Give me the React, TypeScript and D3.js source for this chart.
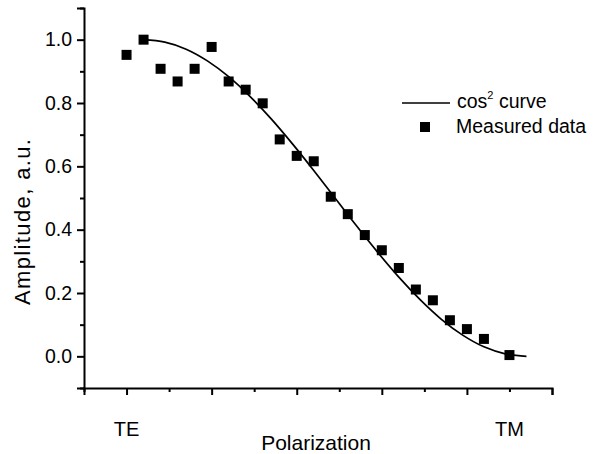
import { useEffect, useRef } from "react";
import * as d3 from "d3";

// Measured data: polarization angle (deg, TE = 0, TM = 90) and amplitude
const measuredAngles = [0, 4, 8, 12, 16, 20, 24, 28, 32, 36, 40, 44, 48, 52, 56, 60, 64, 68, 72, 76, 80, 84, 90];
const measuredValues = [
  0.952, 1.0, 0.908, 0.868, 0.908, 0.977, 0.868, 0.842, 0.799, 0.685, 0.633, 0.616,
  0.504, 0.449, 0.383, 0.335, 0.279, 0.211, 0.177, 0.114, 0.086, 0.055, 0.004,
];

// cos^2 curve
const curveAngles = [4, 9, 14, 19, 24, 29, 34, 39, 44, 49, 54, 59, 64, 69, 74, 79, 84, 89, 94];
const curveValues = [
  1.0, 0.992, 0.97, 0.933, 0.883, 0.821, 0.75, 0.671, 0.587, 0.5, 0.413, 0.329, 0.25,
  0.179, 0.117, 0.067, 0.03, 0.008, 0.0,
];

const yMajorTicks = [0, 0.2, 0.4, 0.6, 0.8, 1.0];
const yMinorTicks = [-0.1, 0.1, 0.3, 0.5, 0.7, 0.9, 1.1];
const xMajorTicks = [0, 20, 40, 60, 80, 100];
const xMinorTicks = [-10, 10, 30, 50, 70, 90];
const xLabels = [
  { angle: 0, text: "TE" },
  { angle: 90, text: "TM" },
];

const W = 593;
const H = 454;
const FONT = "Arial, 'Liberation Sans', Helvetica, sans-serif";

export default function App() {
  const svgRef = useRef<SVGSVGElement>(null);

  useEffect(() => {
    if (!svgRef.current) return;
    const svg = d3.select(svgRef.current);
    svg.selectAll("*").remove();

    const x = d3.scaleLinear().domain([-10, 100]).range([84, 552]);
    const y = d3.scaleLinear().domain([-0.1, 1.1]).range([388, 8]);

    // y axis
    const yAxisMajor = svg
      .append("g")
      .attr("transform", `translate(${x(-10)},0)`)
      .call(d3.axisLeft(y).tickValues(yMajorTicks).tickSize(7).tickPadding(5).tickFormat(d3.format(".1f")));
    yAxisMajor.select(".domain").attr("stroke-width", 2).attr("stroke", "#000");
    yAxisMajor.selectAll(".tick line").attr("stroke-width", 2);
    yAxisMajor
      .selectAll(".tick text")
      .attr("font-family", FONT)
      .attr("font-size", 19.5)
      .attr("fill", "#000");

    svg
      .append("g")
      .attr("transform", `translate(${x(-10)},0)`)
      .call(d3.axisLeft(y).tickValues(yMinorTicks).tickSize(4).tickFormat(() => ""))
      .call((g) => g.select(".domain").remove())
      .call((g) => g.selectAll(".tick line").attr("stroke-width", 2));

    // x axis
    const xAxisMajor = svg
      .append("g")
      .attr("transform", `translate(0,${y(-0.1)})`)
      .call(d3.axisBottom(x).tickValues(xMajorTicks).tickSize(7).tickFormat(() => ""));
    xAxisMajor.select(".domain").attr("stroke-width", 2).attr("stroke", "#000");
    xAxisMajor.selectAll(".tick line").attr("stroke-width", 2);

    svg
      .append("g")
      .attr("transform", `translate(0,${y(-0.1)})`)
      .call(d3.axisBottom(x).tickValues(xMinorTicks).tickSize(4).tickFormat(() => ""))
      .call((g) => g.select(".domain").remove())
      .call((g) => g.selectAll(".tick line").attr("stroke-width", 2));

    // TE / TM labels
    svg
      .selectAll(".xlab")
      .data(xLabels)
      .enter()
      .append("text")
      .attr("x", (d) => x(d.angle))
      .attr("y", 436)
      .attr("text-anchor", "middle")
      .attr("font-family", FONT)
      .attr("font-size", 20)
      .text((d) => d.text);

    // axis titles
    svg
      .append("text")
      .attr("x", 316)
      .attr("y", 450)
      .attr("text-anchor", "middle")
      .attr("font-family", FONT)
      .attr("font-size", 21)
      .text("Polarization");

    svg
      .append("text")
      .attr("transform", "translate(30,222) rotate(-90)")
      .attr("text-anchor", "middle")
      .attr("font-family", FONT)
      .attr("font-size", 22)
      .attr("textLength", 166)
      .attr("lengthAdjust", "spacing")
      .text("Amplitude, a.u.");

    // cos^2 curve
    const curvePts = curveAngles.map((a, i) => [a, curveValues[i]] as [number, number]);
    const line = d3
      .line<[number, number]>()
      .x((d) => x(d[0]))
      .y((d) => y(d[1]))
      .curve(d3.curveMonotoneX);
    svg
      .append("path")
      .datum(curvePts)
      .attr("d", line)
      .attr("fill", "none")
      .attr("stroke", "#000")
      .attr("stroke-width", 1.7);

    // measured squares
    const s = 10;
    svg
      .selectAll(".pt")
      .data(measuredAngles.map((a, i) => ({ a, v: measuredValues[i] })))
      .enter()
      .append("rect")
      .attr("x", (d) => x(d.a) - s / 2)
      .attr("y", (d) => y(d.v) - s / 2)
      .attr("width", s)
      .attr("height", s)
      .attr("fill", "#000");

    // legend
    const lg = svg.append("g").attr("font-family", FONT).attr("font-size", 19.5);
    lg.append("line")
      .attr("x1", 402)
      .attr("x2", 450)
      .attr("y1", 103)
      .attr("y2", 103)
      .attr("stroke", "#000")
      .attr("stroke-width", 1.5);
    const t1 = lg.append("text").attr("x", 457).attr("y", 108);
    t1.append("tspan").text("cos");
    t1.append("tspan").attr("font-size", 11).attr("dy", -9).text("2");
    t1.append("tspan").attr("dy", 9).text(" curve");
    lg.append("rect")
      .attr("x", 425 - s / 2)
      .attr("y", 127 - s / 2)
      .attr("width", s)
      .attr("height", s)
      .attr("fill", "#000");
    lg.append("text").attr("x", 456).attr("y", 133).text("Measured data");
  }, []);

  return (
    <svg
      ref={svgRef}
      width={W}
      height={H}
      style={{ position: "absolute", left: 0, top: 0, background: "#fff", display: "block" }}
    />
  );
}
